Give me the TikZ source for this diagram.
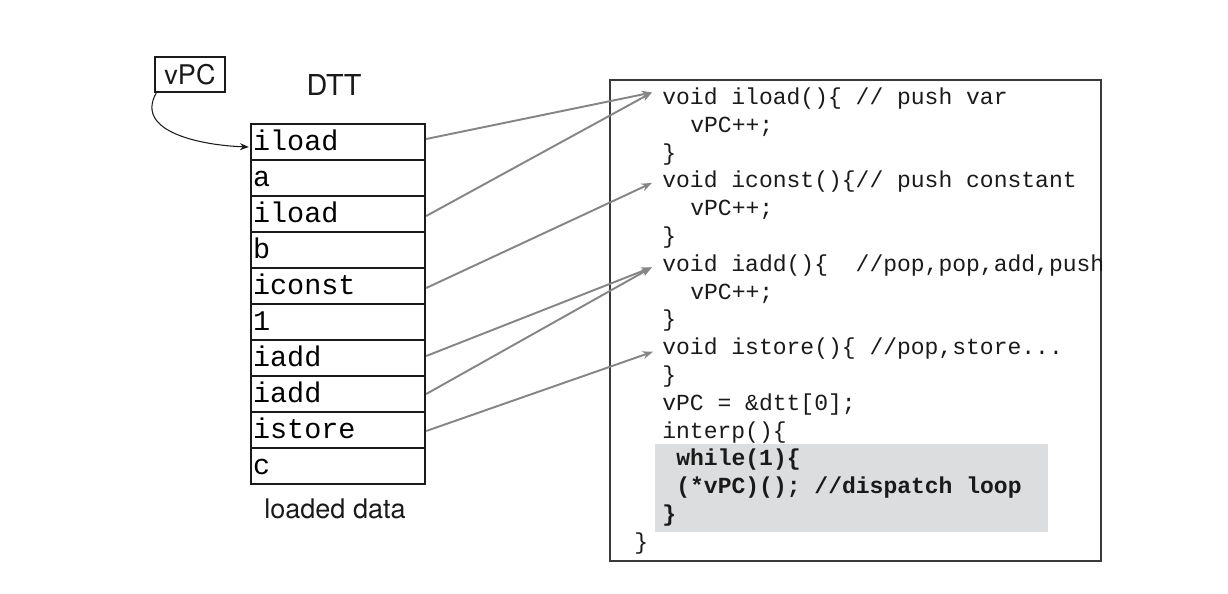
\documentclass[tikz,border=0pt]{standalone}
\usepackage{fontspec}
\setmainfont{TeX Gyre Heros}
\setsansfont{TeX Gyre Heros}
\setmonofont{Liberation Mono}
\usetikzlibrary{arrows.meta}
\definecolor{ink}{HTML}{1A1A1A}
\definecolor{frame}{HTML}{3A3A3A}
\definecolor{link}{HTML}{858585}
\definecolor{loopfill}{HTML}{DCDDDE}
\tikzset{
  cell/.style={draw=ink,line width=1.4pt,minimum width=3.48cm,minimum height=0.72cm,
    text width=3.40cm,inner xsep=0.04cm,align=left,text height=12pt,text depth=2pt,
    font=\ttfamily\fontsize{16.2}{18}\selectfont},
  code/.style={anchor=west,inner sep=0pt,text height=10pt,text depth=2pt,
    font=\ttfamily\fontsize{13.1}{15}\selectfont,text=ink},
  hot/.style={code,font=\ttfamily\bfseries\fontsize{13.1}{15}\selectfont},
  label/.style={font=\sffamily\fontsize{15.4}{18}\selectfont,text=ink},
  dispatch/.style={-{Stealth[length=6pt,width=4.5pt]},draw=link,line width=1.1pt},
  pointer/.style={-{Stealth[length=5pt,width=4pt]},draw=ink,line width=0.6pt}
}

\begin{document}
\begin{tikzpicture}[x=0.02cm,y=-0.02cm]
  \useasboundingbox (0,0) rectangle (1228,594);

  % program counter and the threaded table
  \node[label,draw=ink,line width=0.6pt,minimum width=1.4cm,minimum height=0.7cm,inner sep=0pt]
    (vpc) at (190,74.5) {vPC};
  \node[label,font=\sffamily\fontsize{16.4}{19}\selectfont] (dtt) at (334,85) {DTT};

  \node[cell] (r1) at (338,142) {iload};
  \node[cell] (r2) at (338,178) {a};
  \node[cell] (r3) at (338,214) {iload};
  \node[cell] (r4) at (338,250) {b};
  \node[cell] (r5) at (338,286) {iconst};
  \node[cell] (r6) at (338,322) {1};
  \node[cell] (r7) at (338,358) {iadd};
  \node[cell] (r8) at (338,394) {iadd};
  \node[cell] (r9) at (338,430) {istore};
  \node[cell] (r10) at (338,466) {c};

  \node[label] (loaded) at (335,509) {loaded data};

  % interpreter source
  \draw[draw=frame,line width=0.7pt] (610,80) rectangle (1101,561);
  \fill[loopfill] (655,444) rectangle (1048,532);

  \node[code] (fiload) at (662,97.5) {void iload()\{ // push var};
  \node[code] (c1) at (690,125.3) {vPC++;};
  \node[code] (c2) at (662,153.1) {\}};
  \node[code] (ficonst) at (662,180.9) {void iconst()\{// push constant};
  \node[code] (c4) at (690,208.7) {vPC++;};
  \node[code] (c5) at (662,236.5) {\}};
  \node[code] (fiadd) at (662,264.3) {void iadd()\{\ \ //pop,pop,add,push};
  \node[code] (c7) at (690,292.1) {vPC++;};
  \node[code] (c8) at (662,319.9) {\}};
  \node[code] (fistore) at (662,347.7) {void istore()\{ //pop,store...};
  \node[code] (c10) at (662,375.5) {\}};
  \node[code] (c11) at (662,403.3) {vPC = \&dtt[0];};
  \node[code] (c12) at (662,431.1) {interp()\{};
  \node[hot] (c13) at (676,458.9) {while(1)\{};
  \node[hot] (c14) at (676,486.7) {(*vPC)(); //dispatch loop};
  \node[hot] (c15) at (662,514.5) {\}};
  \node[code] (c16) at (634,542.3) {\}};

  \draw[pointer] ([shift={(2,0)}]vpc.south west) to[out=-120,in=178,looseness=1.1]
    ([shift={(-1,5)}]r1.west);

  \draw[dispatch] ([shift={(0,-3)}]r1.east) -- ([shift={(-10,-5)}]fiload.west);
  \draw[dispatch] ([shift={(0,2)}]r3.east) -- ([shift={(-10,-5)}]fiload.west);
  \draw[dispatch] ([shift={(0,2)}]r5.east) -- ([shift={(-10,2)}]ficonst.west);
  \draw[dispatch] ([shift={(0,-2)}]r7.east) -- ([shift={(-10,3)}]fiadd.west);
  \draw[dispatch] (r8.east) -- ([shift={(-10,3)}]fiadd.west);
  \draw[dispatch] ([shift={(0,1)}]r9.east) -- ([shift={(-9,4)}]fistore.west);
\end{tikzpicture}
\end{document}
